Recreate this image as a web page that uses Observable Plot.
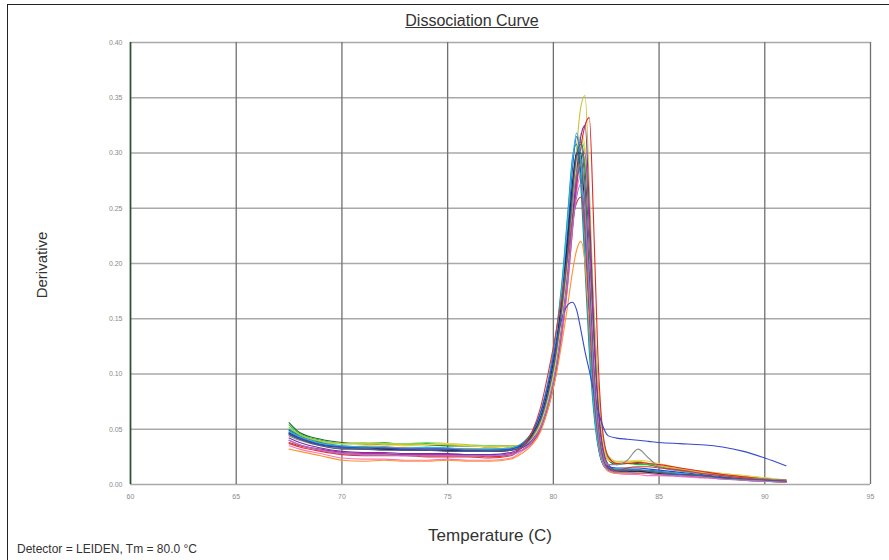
<!DOCTYPE html>
<html><head><meta charset="utf-8">
<script src="https://cdn.jsdelivr.net/npm/d3@7"></script>
<script src="https://cdn.jsdelivr.net/npm/@observablehq/plot@0.6"></script>
<style>
html,body{margin:0;padding:0;background:#fff;}
#wrap{position:relative;width:889px;height:560px;overflow:hidden;font-family:"Liberation Sans",Arial,sans-serif;color:#333;}
#frame{position:absolute;left:7px;top:4px;width:900px;height:600px;border-left:1.5px solid #222;border-top:1.5px solid #222;box-sizing:border-box;}
#chart{position:absolute;left:0;top:0;}
#title{position:absolute;left:372px;width:200px;top:12px;text-align:center;font-size:16px;text-decoration:underline;}
#ylab{position:absolute;left:-18px;top:255px;width:120px;height:20px;line-height:20px;text-align:center;font-size:15px;transform:rotate(-90deg);}
#xlab{position:absolute;left:390px;width:200px;top:526px;text-align:center;font-size:17px;}
#cap{position:absolute;left:17px;top:542px;font-size:12px;white-space:nowrap;}
</style></head>
<body>
<div id="wrap">
  <div id="chart"></div>
  <div id="frame"></div>
  <div id="title">Dissociation Curve</div>
  <div id="ylab">Derivative</div>
  <div id="xlab">Temperature (C)</div>
  <div id="cap">Detector = LEIDEN, Tm = 80.0 °C</div>
</div>
<script>
const xTicks = [60, 65, 70, 75, 80, 85, 90, 95];
const yTicks = [0, 0.05, 0.10, 0.15, 0.20, 0.25, 0.30, 0.35, 0.40];
const temps = [67.5, 68, 69, 70, 71, 72, 73, 74, 75, 76, 77, 78, 78.5, 79, 79.4, 79.8, 80.1, 80.4, 80.7, 80.9, 81.1, 81.3, 81.5, 81.7, 81.9, 82.1, 82.3, 82.6, 83, 83.5, 84, 84.5, 85, 86, 87, 88, 89, 90, 91];

const w01 = [.056,.047,.041,.038,.037,.036,.037,.036,.035,.035,.034,.035, .035,.043,.057,.084,.113,.155,.210,.255,.295,.310,.285,.215,.140,.080,.042,.022,.018, .019,.019,.018,.016,.013,.011,.009,.007,.005,.004];
const w02 = [.054,.046,.040,.037,.037,.038,.036,.037,.036,.035,.035,.035, .034,.041,.054,.079,.106,.146,.198,.240,.280,.300,.290,.235,.160,.092,.048,.024,.019, .019,.018,.018,.016,.013,.011,.009,.007,.005,.004];
const w03 = [.052,.045,.039,.037,.038,.037,.037,.038,.037,.036,.035,.035, .035,.042,.056,.082,.110,.152,.206,.250,.292,.312,.300,.240,.162,.094,.050,.026,.021, .021,.020,.019,.017,.014,.012,.010,.008,.006,.004];
const w04 = [.050,.045,.039,.037,.037,.037,.036,.036,.036,.035,.034,.035, .035,.042,.055,.080,.108,.150,.205,.255,.305,.342,.352,.270,.165,.090,.045,.023,.020, .020,.021,.019,.017,.014,.011,.009,.007,.005,.004];
const w05 = [.045,.041,.036,.034,.035,.036,.035,.036,.037,.035,.034,.034, .034,.041,.054,.079,.106,.147,.200,.246,.290,.318,.305,.230,.150,.085,.043,.022,.020, .021,.022,.021,.019,.015,.012,.010,.008,.006,.004];
const w06 = [.038,.035,.031,.028,.027,.027,.027,.026,.026,.026,.025,.027, .033,.039,.050,.072,.097,.135,.185,.230,.272,.305,.325,.332,.240,.120,.055,.025,.019, .019,.020,.019,.018,.015,.012,.009,.007,.005,.004];
const w07 = [.035,.032,.028,.024,.023,.023,.022,.022,.023,.022,.022,.024, .030,.037,.049,.073,.098,.136,.186,.228,.265,.280,.255,.180,.105,.052,.025,.012,.010, .009,.009,.008,.008,.007,.006,.005,.004,.003,.002];
const w08 = [.040,.036,.032,.029,.028,.028,.027,.027,.027,.027,.026,.028, .031,.038,.050,.074,.100,.140,.190,.232,.270,.295,.300,.230,.140,.072,.034,.016,.011, .011,.010,.010,.009,.008,.007,.006,.005,.004,.003];
const w09 = [.042,.038,.033,.030,.029,.029,.028,.028,.028,.027,.027,.029, .033,.040,.052,.076,.102,.142,.195,.240,.282,.315,.325,.250,.150,.078,.038,.018,.013, .013,.013,.012,.011,.010,.008,.006,.005,.004,.003];
const w10 = [.049,.043,.037,.034,.033,.033,.032,.033,.032,.031,.031,.032, .036,.046,.062,.092,.125,.170,.235,.285,.315,.290,.220,.140,.080,.042,.024,.016,.015, .015,.015,.014,.013,.011,.009,.007,.005,.004,.003];
const w11 = [.047,.042,.036,.033,.034,.032,.032,.031,.031,.031,.030,.031, .035,.045,.060,.090,.122,.166,.228,.272,.300,.282,.215,.135,.075,.038,.020,.013,.012, .012,.012,.011,.010,.009,.007,.006,.004,.003,.002];
const w12 = [.050,.044,.038,.035,.034,.034,.033,.033,.033,.032,.032,.033, .037,.048,.066,.098,.133,.182,.250,.295,.308,.270,.195,.120,.068,.036,.021,.015,.014, .014,.013,.013,.012,.010,.008,.006,.005,.004,.003];
const w13 = [.048,.043,.037,.035,.034,.034,.033,.034,.033,.032,.032,.033, .036,.047,.064,.096,.130,.178,.245,.292,.318,.292,.215,.132,.074,.038,.021,.014,.013, .013,.013,.012,.011,.010,.008,.006,.005,.004,.003];
const w14 = [.032,.030,.026,.022,.021,.022,.021,.021,.022,.021,.021,.023, .028,.036,.048,.072,.096,.128,.165,.192,.212,.220,.200,.145,.088,.045,.022,.012,.010, .010,.011,.011,.010,.009,.007,.005,.004,.003,.002];
const w15 = [.046,.041,.036,.033,.032,.032,.031,.031,.031,.030,.030,.031, .035,.045,.060,.089,.120,.163,.222,.268,.300,.300,.240,.160,.092,.048,.025,.014,.012, .012,.012,.011,.010,.009,.008,.006,.005,.004,.003];
const w16 = [.044,.040,.035,.033,.033,.034,.033,.032,.032,.032,.031,.032, .034,.043,.058,.086,.116,.158,.212,.252,.282,.290,.262,.190,.115,.060,.030,.018,.018, .022,.032,.024,.016,.012,.010,.008,.006,.005,.004];
const w17 = [.046,.042,.036,.034,.033,.033,.032,.032,.032,.031,.031,.032, .036,.047,.065,.095,.125,.150,.163,.165,.158,.140,.120,.103,.085,.068,.055,.044,.042, .041,.040,.039,.038,.037,.036,.034,.030,.024,.017];
const w18 = [.037,.034,.030,.027,.026,.026,.026,.025,.025,.025,.024,.026, .034,.048,.070,.105,.135,.170,.210,.238,.255,.260,.230,.160,.095,.048,.024,.014,.012, .015,.016,.016,.015,.013,.010,.008,.006,.004,.003];
const w19 = [.045,.041,.035,.032,.032,.031,.031,.031,.030,.030,.030,.031, .034,.044,.059,.087,.117,.160,.216,.262,.298,.308,.270,.190,.110,.056,.028,.015,.013, .013,.013,.012,.011,.009,.008,.006,.005,.004,.003];
const w20 = [.040,.036,.031,.028,.027,.027,.026,.026,.026,.026,.026,.027, .031,.039,.052,.077,.103,.142,.192,.232,.260,.272,.245,.170,.098,.050,.024,.013,.011, .011,.010,.010,.009,.008,.007,.005,.004,.003,.002];

const wells = [w01,w02,w03,w04,w05,w06,w07,w08,w09,w10,w11,w12,w13,w14,w15,w16,w17,w18,w19,w20];
const wellColors = ["#1d6b30","#25c23c","#90d860","#c9c43a","#f2d34a","#e32626","#ff74b4","#c42a9c","#7a2fa5","#2342f5",
                    "#1b2a80","#168f8c","#29b8dc","#ff9233","#262626","#8c8c8c","#3548d0","#d63a3e","#4b5d80","#a678d6"];

const rows = [];
wells.forEach((vals, i) => vals.forEach((v, j) => rows.push({well: i, t: temps[j], v, c: wellColors[i]})));

const plot = Plot.plot({
  width: 889,
  height: 560,
  marginLeft: 130,
  marginRight: 19,
  marginTop: 42,
  marginBottom: 76,
  style: {fontFamily: "'Liberation Sans', Arial, sans-serif", background: "#fff"},
  x: {domain: [60, 95]},
  y: {domain: [0, 0.4]},
  color: {type: "identity"},
  marks: [
    Plot.ruleY(yTicks, {stroke: "#a9a9a9", strokeWidth: 1.3}),
    Plot.ruleX(xTicks, {stroke: "#707070", strokeWidth: 1.3}),
    Plot.ruleX([60], {stroke: "#2c5236", strokeWidth: 1.6}),
    Plot.line(rows, {x: "t", y: "v", z: "well", stroke: "c", strokeWidth: 1.1, curve: "monotone-x"}),
    Plot.axisX({ticks: xTicks, tickSize: 0, tickPadding: 10, fontSize: 7, fill: "#8a8a8a", label: null, tickFormat: d => String(d)}),
    Plot.axisY({ticks: yTicks, tickSize: 0, tickPadding: 8, fontSize: 7, fill: "#8a8a8a", label: null, tickFormat: d3.format(".2f")})
  ]
});
document.getElementById("chart").appendChild(plot);
</script>
</body></html>
